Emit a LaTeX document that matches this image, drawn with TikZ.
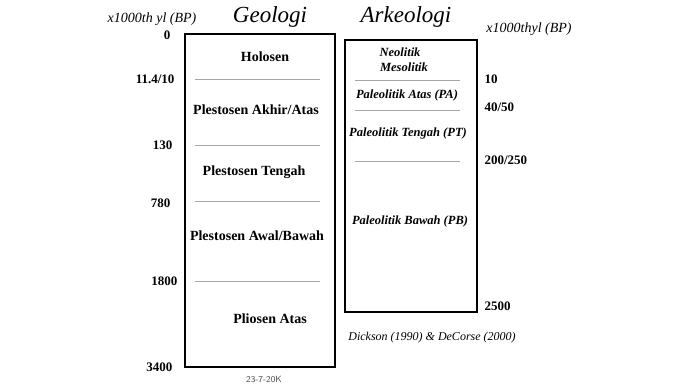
\documentclass[tikz,border=0pt]{standalone}
\usepackage{fontspec}
\setmainfont{Liberation Serif}
\usetikzlibrary{positioning}

\tikzset{
    tahun/.style={font=\bfseries\fontsize{13}{15}\selectfont, anchor=east},
    zaman/.style={font=\bfseries\fontsize{14}{16}\selectfont},
    budaya/.style={font=\bfseries\itshape\fontsize{12.5}{14}\selectfont},
    judul/.style={font=\itshape\fontsize{23}{26}\selectfont},
    satuan/.style={font=\itshape\fontsize{14}{16}\selectfont},
    batas/.style={draw=gray!70, line width=1pt},
    kotak/.style={draw=black, line width=1.6pt}
}

\begin{document}
\begin{tikzpicture}[x=1pt,y=-1pt]
    \useasboundingbox (0,0) rectangle (683,384);

    % kolom geologi
    \draw[kotak] (185,34) rectangle (335,367);
    \draw[batas] (195,79)  -- (320,79);
    \draw[batas] (195,145) -- (320,145);
    \draw[batas] (195,201) -- (320,201);
    \draw[batas] (195,281) -- (320,281);

    \node[zaman] (holosen)  at (265,57)  {Holosen};
    \node[zaman] (pakhir)   at (256,110) {Plestosen Akhir/Atas};
    \node[zaman] (ptengah)  at (254,172) {Plestosen Tengah};
    \node[zaman] (pawal)    at (257,236) {Plestosen Awal/Bawah};
    \node[zaman] (pliosen)  at (270,319) {Pliosen Atas};

    \node[tahun] (t0)    at (174,35)  {0};
    \node[tahun] (t11)   at (178,79)  {11.4/10};
    \node[tahun] (t130)  at (176,145) {130};
    \node[tahun] (t780)  at (174,203) {780};
    \node[tahun] (t1800) at (181,281) {1800};
    \node[tahun] (t3400) at (176,367) {3400};

    % kolom arkeologi
    \draw[kotak] (345,40) rectangle (477,312);
    \draw[batas] (355,80)  -- (460,80);
    \draw[batas] (355,110) -- (460,110);
    \draw[batas] (355,161) -- (460,161);

    \node[budaya] (neo)  at (400,52)  {Neolitik};
    \node[budaya] (meso) at (404,67)  {Mesolitik};
    \node[budaya] (pa)   at (407,95)  {Paleolitik Atas (PA)};
    \node[budaya] (pt)   at (408,133) {Paleolitik Tengah (PT)};
    \node[budaya] (pb)   at (410,221) {Paleolitik Bawah (PB)};

    \node[tahun, anchor=west] (a10)   at (481,79)  {10};
    \node[tahun, anchor=west] (a40)   at (481,107) {40/50};
    \node[tahun, anchor=west] (a200)  at (481,160) {200/250};
    \node[tahun, anchor=west] (a2500) at (481,306) {2500};

    % judul dan keterangan
    \node[judul]  (geo)  at (270,17) {Geologi};
    \node[judul]  (ark)  at (406,17) {Arkeologi};
    \node[satuan] (sat1) at (152,19) {x1000th yl (BP)};
    \node[satuan] (sat2) at (529,29) {x1000thyl (BP)};
    \node[satuan, font=\itshape\fontsize{12}{14}\selectfont] (sumber) at (432,338) {Dickson (1990) \& DeCorse (2000)};
    \node[font=\sffamily\fontsize{9}{10}\selectfont, gray!60!black] (kode) at (264,379) {23-7-20K};
\end{tikzpicture}
\end{document}
